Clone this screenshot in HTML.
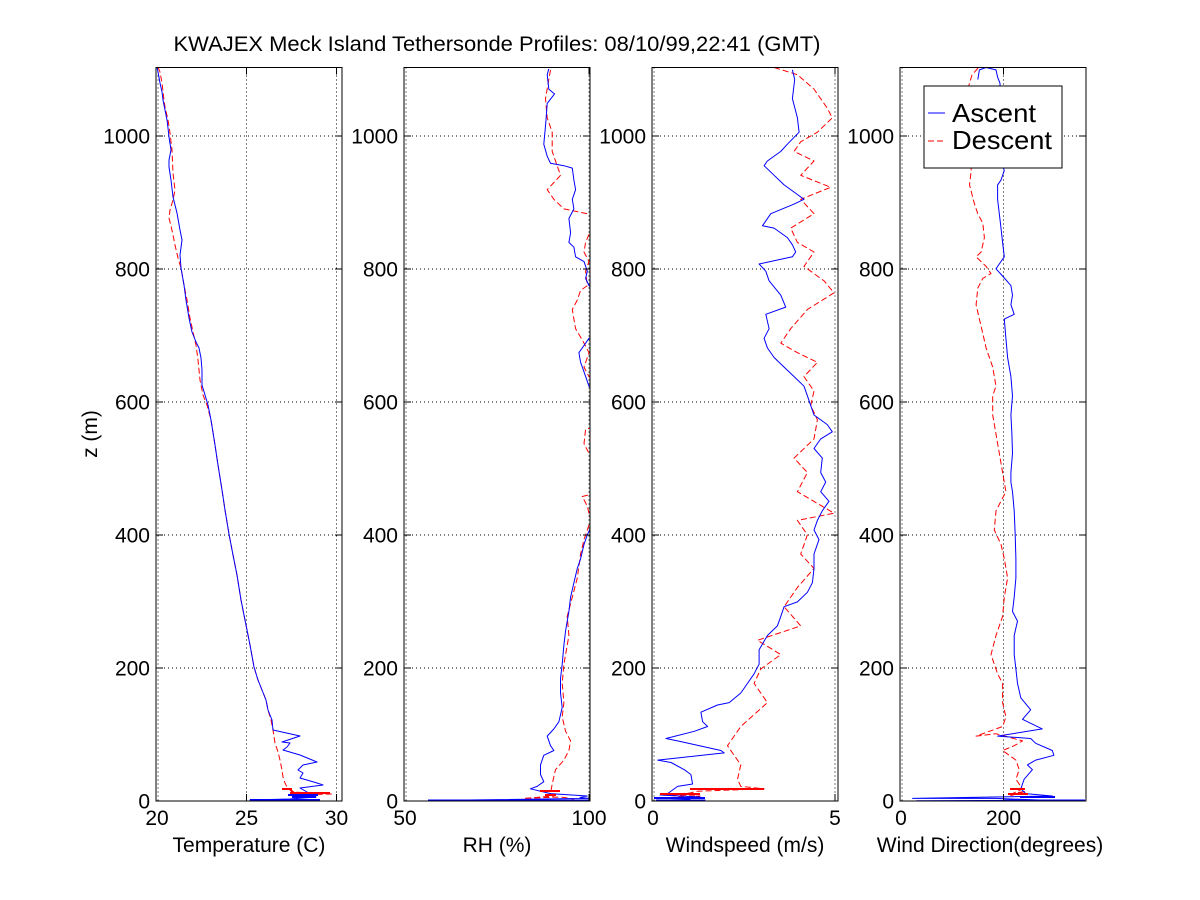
<!DOCTYPE html>
<html>
<head>
<meta charset="utf-8">
<style>
  html,body{margin:0;padding:0;background:#fff;}
  svg{display:block;}
  text{font-family:"Liberation Sans",Arial,sans-serif;fill:#000;}
</style>
</head>
<body>
<svg width="1200" height="900" viewBox="0 0 1200 900" xmlns="http://www.w3.org/2000/svg">
<defs>
  <clipPath id="c1"><rect x="156" y="67.5" width="186" height="733.5"/></clipPath>
  <clipPath id="c2"><rect x="404" y="67.5" width="186" height="733.5"/></clipPath>
  <clipPath id="c3"><rect x="652" y="67.5" width="186" height="733.5"/></clipPath>
  <clipPath id="c4"><rect x="900" y="67.5" width="186" height="733.5"/></clipPath>
</defs>
<rect x="0" y="0" width="1200" height="900" fill="#fff"/>

<!-- Title -->
<text x="497" y="51" font-size="21" text-anchor="middle" textLength="647" lengthAdjust="spacingAndGlyphs">KWAJEX Meck Island Tethersonde Profiles: 08/10/99,22:41 (GMT)</text>

<!-- ===== GRIDS (dotted) ===== -->
<g stroke="#000" stroke-width="1" stroke-dasharray="1,3" fill="none">
  <!-- horizontal grids for each panel -->
  <path d="M156 136H342M156 269H342M156 402H342M156 535H342M156 668H342"/>
  <path d="M404 136H590M404 269H590M404 402H590M404 535H590M404 668H590"/>
  <path d="M652 136H838M652 269H838M652 402H838M652 535H838M652 668H838"/>
  <path d="M900 136H1086M900 269H1086M900 402H1086M900 535H1086M900 668H1086"/>
  <!-- vertical grids -->
  <path d="M158 67.5V801M246.5 67.5V801M336.5 67.5V801"/>
  <path d="M406 67.5V801M589 67.5V801"/>
  <path d="M654 67.5V801M835 67.5V801"/>
  <path d="M902 67.5V801M1003.5 67.5V801"/>
</g>

<!-- ===== DATA ===== -->
<g fill="none" stroke-width="1" stroke-linejoin="round">
  <!-- Panel 1 Temperature -->
  <g clip-path="url(#c1)">
    <polyline stroke="#ff0000" stroke-dasharray="6,3" points="158,67 160,72 162,83 164,100 165,107 168,120 170,133 172,150 173,173 175,190 173,200 170,210 169,218 171,226 173,235 175,245 178,258 181,268 184,285 187,300 190,318 193,332 196,345 198,360 200,380 203,395 207,405 211,420 215,445 218,465 222,490 225,510 229,534 233,555 237,575 241,600 246,625 250,645 254,667 258,680 262,690 266,700 268,710 271,720 273,730 275,743 278,752 280,760 282,770 283,777 285,783 287,787 292,792 332,794 288,795 300,797 290,789 282,789"/>
    <polyline stroke="#0000ff" points="157,67 158,72 160,83 162,92 163,100 165,110 167,120 168,128 169,137 171,150 169,160 169,167 171,180 173,197 175,205 177,213 180,230 182,240 180,255 181,268 184,285 186,300 189,318 192,332 196,342 199,348 201,358 202,370 202,385 205,395 208,405 211,420 215,445 218,465 222,490 225,510 229,534 233,555 237,575 241,600 246,625 250,645 254,667 258,680 262,690 266,700 268,710 272,720 273,730 300,736 282,742 290,743 287,747 283,750 300,755 317,762 303,765 298,770 303,773 300,778 317,783 323,785 300,788 307,792 293,795 316,797 290,799 250,800 320,800"/>
    <path stroke="#0000ff" stroke-width="2" d="M250 800H320M288 795H318M292 797H316"/>
    <path stroke="#ff0000" stroke-width="2" d="M282 789H292M290 793H330"/>
  </g>

  <!-- Panel 2 RH -->
  <g clip-path="url(#c2)">
    <polyline stroke="#ff0000" stroke-dasharray="6,3" points="550.5,69.9 548.8,79.5 545.5,98.6 547.2,117.8 552.2,132.2 552.2,151.4 557.2,165.7 560.5,175.3 553.9,182.5 547.2,189.7 553.9,199.3 563.9,208.9 587.3,213.7 600,216 600,228 590.6,230.5 585.6,242.4 584,252 589,261.6 585.6,271.2 587.3,285.6 580.6,290.4 577.3,300 572.3,309.5 573.9,319.1 575.6,328.7 584,343.1 589,352.7 584,367.1 589,376.6 600,386 600,425 585.6,429.4 584,443.7 589,453.3 600,463 600,492 582.3,496.5 587.3,506.1 590.6,520.4 584,539.6 580.6,554 577.3,578 572.3,597.1 567.2,616.3 568.9,635.5 565.6,654.6 563.9,664.2 562.2,683.4 563.9,702.6 562.2,717 565.6,731.3 570.6,740.9 568.9,750.5 563.9,760.1 555.5,769.7 552.2,784 550.5,793.6 553.9,796 523.8,798.4 560.5,797 574,799"/>
    <polyline stroke="#0000ff" points="548.8,68.9 547.2,74.7 548.8,89.1 554.5,93.9 547.2,103.4 545.8,122.6 543.8,144.2 547.2,156.2 550.5,163.3 563.9,165.7 572.3,168.1 573.9,180.1 575.6,189.7 572.3,199.3 573.9,208.9 568.9,218.5 570.6,232.8 568.9,242.4 573.9,247.2 575.6,256.8 584,261.6 587.3,271.2 585.6,278.4 589,285.6 600,295 600,333 589,338.3 582.3,347.9 578.9,352.7 580.6,362.3 584,371.8 589,386.2 600,395.8 600,520 590.6,527.6 587.3,534.8 584,544.4 580.6,558.8 577.3,568.4 573.9,582.7 570.6,597.1 568.9,611.5 565.6,630.7 563.9,645.1 562.2,664.2 560.5,678.6 560.5,693 562.2,707.4 558.9,721.7 553.9,728.9 547.2,736.1 550.5,745.7 553.9,750.5 543.8,755.3 540.5,764.9 540.5,774.5 543.8,781.7 537.1,786.4 530.4,788.8 550.5,793.6 587.3,796 580,797.5 589,798.4 428.4,800.5 589,800.5"/>
    <path stroke="#0000ff" stroke-width="2" d="M428 800.5H590"/>
    <path stroke="#ff0000" stroke-width="2" d="M540 791H560M545 795H556"/>
  </g>

  <!-- Panel 3 Windspeed -->
  <g clip-path="url(#c3)">
    <polyline stroke="#ff0000" stroke-dasharray="6,3" points="774.1,67.5 797.4,74.7 814,89.1 827.3,108.2 832.3,117.8 817.4,132.2 800.7,141.8 794.1,151.4 814,161 800.7,175.3 830.7,187.3 800.7,199.3 814,213.7 790.7,228.1 797.4,242.4 814,252 804,266.4 824,280.8 834,292.8 807.4,309.5 790.7,328.7 780.8,343.1 797.4,352.7 817.4,362.3 804,376.6 814,391 810.7,405.4 817.4,419.8 814,438.9 794.1,458.1 807.4,472.5 797.4,491.7 834,513.2 797.4,520.4 807.4,534.8 800.7,554 814,568.4 797.4,587.5 784.1,606.7 800.7,625.9 757.5,640.3 780.8,654.6 760.8,669 754.1,683.4 767.4,702.6 740.8,726.5 727.5,745.7 740.8,764.9 737.5,779.3 740.8,786.4 764.1,788.8 697.6,791.2 690,793 660,795 700,796 680,797 655,798"/>
    <polyline stroke="#0000ff" points="792.4,69.9 794.7,79.5 792.4,98.6 797.4,117.8 799.1,132.2 787.4,144.2 780.8,151.4 767.4,161 764.1,165.7 774.1,175.3 784.1,184.9 797.4,194.5 804,199.3 794.1,204.1 770.8,213.7 762.5,225.7 774.1,228.1 787.4,237.6 792.4,244.8 795.7,252 792.4,256.8 759.1,264 765.8,271.2 769.1,280.8 780.8,295.2 785.7,307.1 765.8,314.3 769.1,328.7 764.1,338.3 767.4,347.9 774.1,357.5 784.1,367.1 794.1,376.6 804,386.2 807.4,395.8 810.7,405.4 814,415 827.3,424.6 832.3,431.8 820.7,438.9 814,448.5 822.3,458.1 820.7,472.5 825.7,482.1 820.7,491.7 829,501.3 822.3,510.8 817.4,520.4 814,530 819,539.6 814,554 814,568.4 812.4,582.7 807.4,592.3 797.4,601.9 784.1,606.7 780.8,616.3 777.4,625.9 767.4,635.5 759.1,649.8 759.1,664.2 754.1,673.8 747.5,683.4 740.8,693 729.2,702.6 717.5,705 700.9,712.2 702.6,721.7 707.6,726.5 694.3,731.3 666,738.5 677.6,740.9 720.9,750.5 724.2,752.9 657.7,760.1 671,762.5 684.3,769.7 690.9,774.5 692.6,784 677.6,786.4 667.6,793.6 660,795 700,797 655,798 690,799 670,800 705,800 656,801"/>
    <path stroke="#ff0000" stroke-width="2" d="M690 789H764M660 794H700"/>
    <path stroke="#0000ff" stroke-width="2" d="M654 798H705M656 800.5H700"/>
  </g>

  <!-- Panel 4 Wind Direction -->
  <g clip-path="url(#c4)">
    <polyline stroke="#ff0000" stroke-dasharray="6,3" points="978,68 972,75 969,85 968,110 970,140 971.2,170.5 969.5,184.9 974.5,204.1 977.8,213.7 982.8,223.3 984.4,237.6 981.1,252 976.1,256.8 986.1,266.4 991,273.6 982.8,278.4 977.8,288 976.1,304.7 979.4,319.1 982.8,333.5 986.1,347.9 992.7,367.1 996,386.2 992.7,395.8 992.7,415 996,434.1 999.3,453.3 1002.6,472.5 1005.9,491.7 996,510.8 994.3,530 1001,544.4 1004.3,558.8 1007.6,578 1004.3,597.1 1002.6,616.3 996,635.5 991,654.6 997.6,673.8 1002.6,683.4 1002.6,702.6 1005.9,717 1002.6,726.5 976.1,736.1 996,733.7 1022.5,740.9 1014.2,745.7 1002.6,750.5 1015.9,760.1 1019.2,769.7 1015.9,779.3 1022.5,788.8 1012.5,793.6 1025.8,791.2 1009.2,796"/>
    <polyline stroke="#0000ff" points="977.8,79.5 979.4,69.9 986.1,67.5 996,69.9 997.6,77.1 1000,83.3 1001,132.2 1002.6,165.7 1004.3,170.5 1001,180.1 997.6,184.9 997.6,199.3 999.3,213.7 1001,228.1 1002.6,242.4 1004.3,256.8 997.6,266.4 996,268.8 1002.6,276 1010.9,285.6 1012.5,295.2 1010.9,304.7 1014.2,314.3 1004.3,319.1 1005.9,338.3 1007.6,357.5 1010.9,376.6 1012.5,395.8 1010.9,415 1011.9,434.1 1012.5,453.3 1010.9,472.5 1010.9,482.1 1012.5,491.7 1014.2,510.8 1015.2,534.8 1015.9,558.8 1015.9,578 1014.2,597.1 1012.5,611.5 1017.5,621.1 1014.2,635.5 1014.2,654.6 1015.9,669 1017.5,683.4 1020.8,697.8 1030.7,709.8 1022.5,719.3 1042.3,728.9 997.6,736.1 1030.7,738.5 1035.7,743.3 1052.3,750.5 1053.9,755.3 1035.7,760.1 1027.4,764.9 1032.4,769.7 1024.1,779.3 1020.8,788.8 1025.8,793.6 1052.3,796 912.6,798.4 996,798.4 1058.9,800.8 916.6,800.8 1084,800"/>
    <path stroke="#ff0000" stroke-width="2" d="M1010 789H1025M1008 794H1028"/>
    <path stroke="#0000ff" stroke-width="2" d="M1003 800.5H1085M1020 797H1055"/>
  </g>
</g>

<!-- ===== AXES BOXES & TICKS ===== -->
<g stroke="#000" stroke-width="1" fill="none">
  <rect x="156" y="67.5" width="186" height="733.5"/>
  <rect x="404" y="67.5" width="186" height="733.5"/>
  <rect x="652" y="67.5" width="186" height="733.5"/>
  <rect x="900" y="67.5" width="186" height="733.5"/>
  <!-- y ticks left/right -->
  <path d="M156 136h7M156 269h7M156 402h7M156 535h7M156 668h7M342 136h-7M342 269h-7M342 402h-7M342 535h-7M342 668h-7"/>
  <path d="M404 136h7M404 269h7M404 402h7M404 535h7M404 668h7M590 136h-7M590 269h-7M590 402h-7M590 535h-7M590 668h-7"/>
  <path d="M652 136h7M652 269h7M652 402h7M652 535h7M652 668h7M838 136h-7M838 269h-7M838 402h-7M838 535h-7M838 668h-7"/>
  <path d="M900 136h7M900 269h7M900 402h7M900 535h7M900 668h7M1086 136h-7M1086 269h-7M1086 402h-7M1086 535h-7M1086 668h-7"/>
  <!-- x ticks bottom/top -->
  <path d="M246.5 801v-7M336.5 801v-7M246.5 67.5v7M336.5 67.5v7"/>
  <path d="M589 801v-7M589 67.5v7"/>
  <path d="M835 801v-7M835 67.5v7"/>
  <path d="M1003.5 801v-7M1003.5 67.5v7"/>
</g>

<!-- ===== TICK LABELS ===== -->
<g font-size="21" text-anchor="end">
  <text x="150" y="143.5">1000</text><text x="150" y="276.5">800</text><text x="150" y="409.5">600</text><text x="150" y="542.5">400</text><text x="150" y="675.5">200</text><text x="150" y="808.5">0</text>
  <text x="398" y="143.5">1000</text><text x="398" y="276.5">800</text><text x="398" y="409.5">600</text><text x="398" y="542.5">400</text><text x="398" y="675.5">200</text><text x="398" y="808.5">0</text>
  <text x="646" y="143.5">1000</text><text x="646" y="276.5">800</text><text x="646" y="409.5">600</text><text x="646" y="542.5">400</text><text x="646" y="675.5">200</text><text x="646" y="808.5">0</text>
  <text x="894" y="143.5">1000</text><text x="894" y="276.5">800</text><text x="894" y="409.5">600</text><text x="894" y="542.5">400</text><text x="894" y="675.5">200</text><text x="894" y="808.5">0</text>
</g>
<g font-size="21" text-anchor="middle">
  <text x="157" y="825">20</text><text x="246.5" y="825">25</text><text x="336.5" y="825">30</text>
  <text x="405" y="825">50</text><text x="589" y="825">100</text>
  <text x="653" y="825">0</text><text x="835" y="825">5</text>
  <text x="901" y="825">0</text><text x="1003.5" y="825">200</text>
</g>

<!-- ===== AXIS LABELS ===== -->
<g font-size="21" text-anchor="middle">
  <text x="249" y="852">Temperature (C)</text>
  <text x="497" y="852">RH (%)</text>
  <text x="745" y="852">Windspeed (m/s)</text>
  <text x="990" y="852">Wind Direction(degrees)</text>
  <text transform="translate(97,434) rotate(-90)" x="0" y="0">z (m)</text>
</g>

<!-- ===== LEGEND ===== -->
<rect x="924" y="86" width="138" height="82" fill="#fff" stroke="#000" stroke-width="1"/>
<line x1="928" y1="113" x2="945" y2="113" stroke="#0000ff" stroke-width="1"/>
<line x1="928" y1="141" x2="945" y2="141" stroke="#ff0000" stroke-width="1" stroke-dasharray="6,3"/>
<text x="952" y="122" font-size="26" textLength="84" lengthAdjust="spacingAndGlyphs">Ascent</text>
<text x="952" y="149" font-size="26" textLength="100" lengthAdjust="spacingAndGlyphs">Descent</text>
</svg>
</body>
</html>
